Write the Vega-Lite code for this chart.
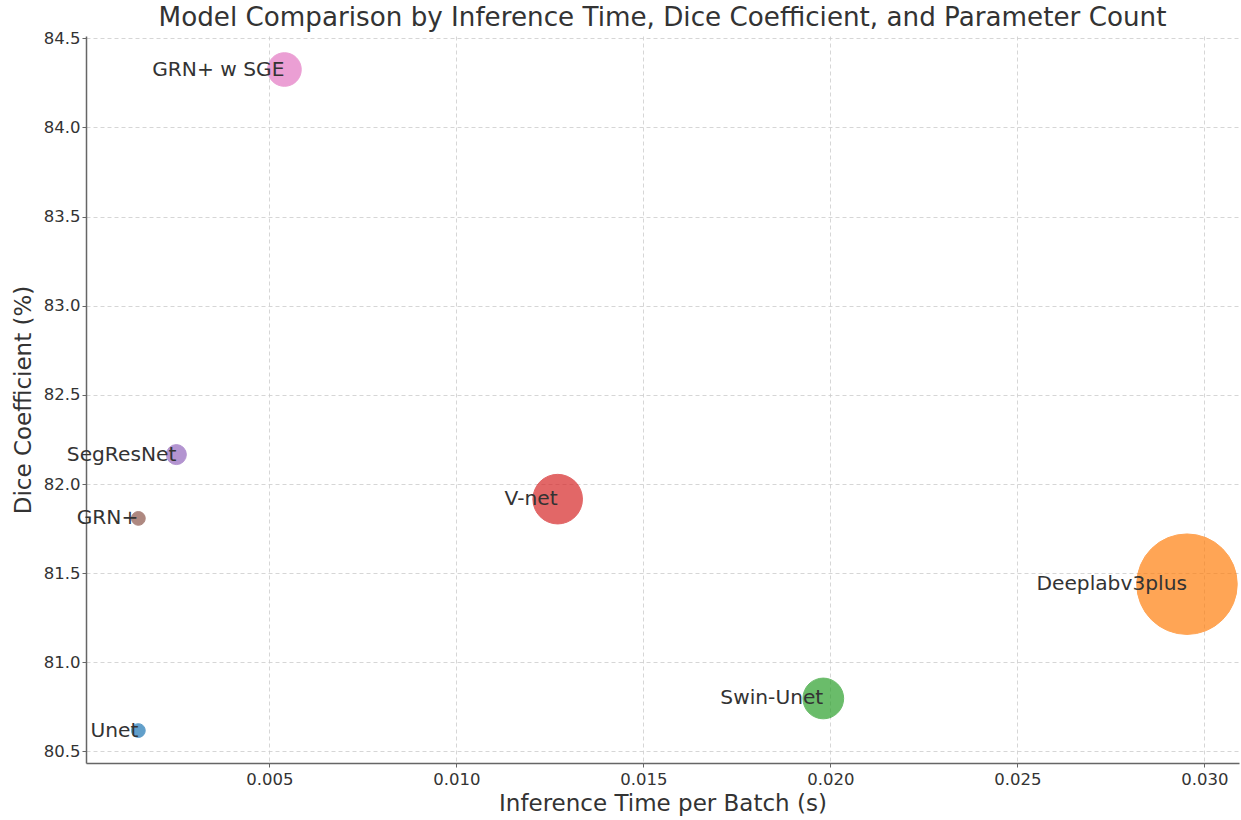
{
  "$schema": "https://vega.github.io/schema/vega-lite/v6.json",
  "autosize": {"type": "none"},
  "width": 1153,
  "height": 727,
  "padding": {"left": 86, "top": 36, "right": 2, "bottom": 57},
  "background": "white",
  "config": {
    "font": "DejaVu Sans",
    "view": {"stroke": null},
    "axis": {
      "labelFont": "DejaVu Sans",
      "titleFont": "DejaVu Sans",
      "labelColor": "#333333",
      "titleColor": "#333333",
      "labelFontSize": 16.5,
      "titleFontSize": 23,
      "titleFontWeight": "normal",
      "domainColor": "#666666",
      "domainWidth": 1.5,
      "tickColor": "#666666",
      "tickSize": 4,
      "tickWidth": 1,
      "grid": true,
      "gridColor": "#cccccc",
      "gridDash": [4, 3],
      "gridWidth": 0.8
    }
  },
  "title": {
    "text": "Model Comparison by Inference Time, Dice Coefficient, and Parameter Count",
    "font": "DejaVu Sans",
    "fontSize": 26.2,
    "fontWeight": "normal",
    "color": "#333333",
    "anchor": "middle",
    "frame": "group",
    "baseline": "alphabetic",
    "offset": 9,
    "dy": 31
  },
  "data": {
    "values": [
      {"model": "Unet", "time": 0.0015, "dice": 80.617, "params": 1.9},
      {"model": "GRN+", "time": 0.0015, "dice": 81.807, "params": 1.9},
      {"model": "SegResNet", "time": 0.002516, "dice": 82.165, "params": 4.0},
      {"model": "GRN+ w SGE", "time": 0.005406, "dice": 84.325, "params": 11.3},
      {"model": "V-net", "time": 0.012711, "dice": 81.915, "params": 24.6},
      {"model": "Swin-Unet", "time": 0.019813, "dice": 80.797, "params": 16.6},
      {"model": "Deeplabv3plus", "time": 0.029537, "dice": 81.438, "params": 101.0}
    ]
  },
  "encoding": {
    "x": {
      "field": "time",
      "type": "quantitative",
      "title": "Inference Time per Batch (s)",
      "scale": {"domain": [0.0001, 0.030928], "nice": false, "zero": false},
      "axis": {"values": [0.005, 0.01, 0.015, 0.02, 0.025, 0.03], "format": ".3f", "labelPadding": 4, "titlePadding": 5}
    },
    "y": {
      "field": "dice",
      "type": "quantitative",
      "title": "Dice Coefficient (%)",
      "scale": {"domain": [80.435, 84.513], "nice": false, "zero": false},
      "axis": {"values": [80.5, 81, 81.5, 82, 82.5, 83, 83.5, 84, 84.5], "format": ".1f", "labelPadding": 2, "titlePadding": 8}
    }
  },
  "layer": [
    {
      "mark": {"type": "circle", "opacity": 0.7, "strokeWidth": 1, "clip": false},
      "encoding": {
        "size": {"field": "params", "type": "quantitative", "scale": {"type": "linear", "domain": [0, 100], "range": [0, 10000]}, "legend": null},
        "color": {
          "field": "model",
          "type": "nominal",
          "scale": {
            "domain": ["Unet", "Deeplabv3plus", "Swin-Unet", "V-net", "SegResNet", "GRN+", "GRN+ w SGE"],
            "range": ["#1f77b4", "#ff7f0e", "#2ca02c", "#d62728", "#9467bd", "#8c564b", "#e377c2"]
          },
          "legend": null
        },
        "stroke": {
          "field": "model",
          "type": "nominal",
          "scale": {
            "domain": ["Unet", "Deeplabv3plus", "Swin-Unet", "V-net", "SegResNet", "GRN+", "GRN+ w SGE"],
            "range": ["#1f77b4", "#ff7f0e", "#2ca02c", "#d62728", "#9467bd", "#8c564b", "#e377c2"]
          },
          "legend": null
        }
      }
    },
    {
      "mark": {"type": "text", "align": "right", "baseline": "middle", "fontSize": 20.2, "color": "#333333", "font": "DejaVu Sans"},
      "encoding": {"text": {"field": "model", "type": "nominal"}}
    }
  ]
}
